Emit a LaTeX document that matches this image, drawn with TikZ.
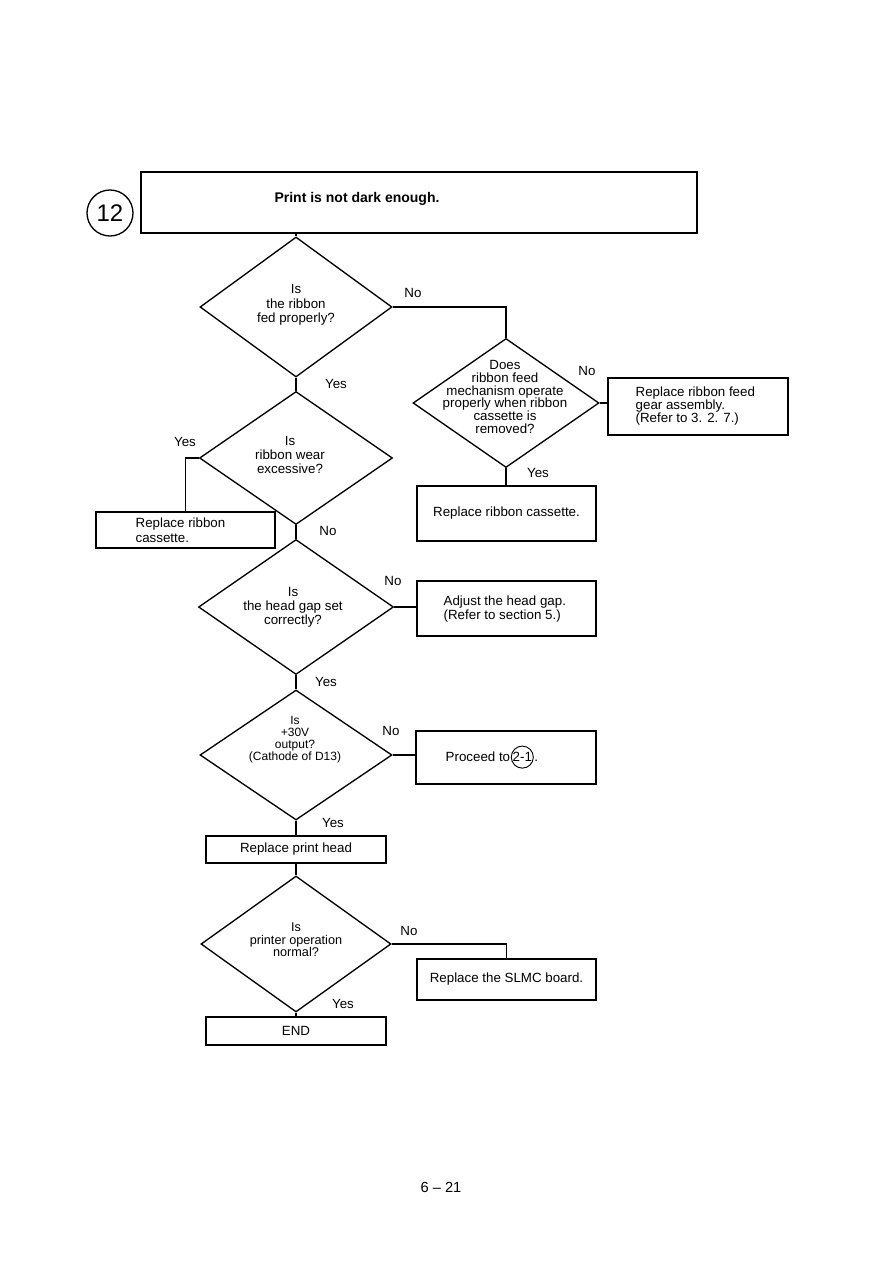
\documentclass[tikz,border=0pt]{standalone}
\usepackage{fontspec}
\setmainfont{Liberation Sans}
\usetikzlibrary{shapes.geometric}
\begin{document}
\begin{tikzpicture}[x=0.75pt,y=-0.75pt,line width=1pt,
  dia/.style={draw,diamond,inner sep=0pt},
  box/.style={draw,rectangle,inner sep=0pt,font=\fontsize{10}{11}\selectfont},
  txt/.style={align=center,inner sep=0pt,font=\fontsize{10}{10.5}\selectfont},
  ltxt/.style={align=left,inner sep=0pt,anchor=west},
  lbl/.style={inner sep=0pt,font=\fontsize{10}{12}\selectfont}]
\useasboundingbox (0,0) rectangle (891,1262);

% header
\node[draw,circle,minimum size=34.5pt,inner sep=0pt,font=\fontsize{18}{18}\selectfont] (num) at (110,213) {12};
\node[box,minimum width=417pt,minimum height=45.75pt] (title) at (419,202.5) {};
\node[inner sep=0pt,font=\bfseries\fontsize{10.5}{12}\selectfont] (titletext) at (357,199) {Print is not dark enough.};

% diamonds
\node[dia,minimum width=144pt,minimum height=105pt] (d1) at (296,307) {};
\node[dia,minimum width=139.5pt,minimum height=96.75pt] (d2) at (506,403) {};
\node[dia,minimum width=144.75pt,minimum height=99.75pt] (d3) at (296,458) {};
\node[dia,minimum width=146.25pt,minimum height=101.25pt] (d4) at (296,607) {};
\node[dia,minimum width=144pt,minimum height=97.5pt] (d5) at (296,755) {};
\node[dia,minimum width=142.5pt,minimum height=102pt] (d6) at (296,944) {};

% diamond texts
\node[txt,font=\fontsize{10}{10.8}\selectfont] (t1) at (296,305) {Is\\the ribbon\\fed properly?};
\node[txt,font=\fontsize{10}{9.7}\selectfont] (t2) at (505,397) {Does\\ribbon feed\\mechanism operate\\properly when ribbon\\cassette is\\removed?};
\node[txt] (t3) at (290,455) {Is\\ribbon wear\\excessive?};
\node[txt] (t4) at (293,607) {Is\\the head gap set\\correctly?};
\node[txt,font=\fontsize{9}{9}\selectfont] (t5) at (295,740) {Is\\+30V\\output?\\(Cathode of D13)};
\node[txt,font=\fontsize{9.5}{9.5}\selectfont] (t6) at (296,940) {Is\\printer operation\\normal?};

% boxes
\node[box,minimum width=135pt,minimum height=42.75pt] (b1) at (698,406.5) {};
\node[ltxt,font=\fontsize{10}{9.75}\selectfont] (b1t) at (635,406) {Replace ribbon feed\\gear assembly.\\(Refer to 3. 2. 7.)};
\node[box,minimum width=134.25pt,minimum height=41.25pt] (b2) at (506.5,513.5) {Replace ribbon cassette.};
\node[box,minimum width=134.25pt,minimum height=27pt] (b3) at (185.5,530) {};
\node[ltxt,font=\fontsize{10}{11}\selectfont] (b3t) at (135,530) {Replace ribbon\\cassette.};
\node[box,minimum width=134.25pt,minimum height=41.25pt] (b4) at (506.5,608.5) {};
\node[ltxt,font=\fontsize{10}{10.5}\selectfont] (b4t) at (443,609) {Adjust the head gap.\\(Refer to section 5.)};
\node[box,minimum width=135pt,minimum height=39.75pt] (b5) at (506,757.5) {};
\node[lbl,anchor=west] (b5t) at (445,757) {Proceed to};
\node[draw,circle,inner sep=0.2pt,minimum size=16pt,line width=0.7pt,font=\fontsize{10}{10}\selectfont,anchor=base west] (c21) at (b5t.base east) {2-1};
\node[lbl,anchor=base west] (b5dot) at (c21.base east) {.};
\node[box,minimum width=135pt,minimum height=20.25pt] (b6) at (296,849.5) {Replace print head};
\node[box,minimum width=134.25pt,minimum height=30.75pt] (b7) at (506.5,979.5) {Replace the SLMC board.};
\node[box,minimum width=135pt,minimum height=21pt] (fin) at (296,1031) {END};

% connectors
\draw (title.south -| d1.north) -- (d1.north);
\draw (d1.east) -- (d1.east -| d2.north) -- (d2.north);
\draw (d1.south) -- (d3.north);
\draw (d2.east) -- (d2.east -| b1.west);
\draw (d2.south) -- (d2.south |- b2.north);
\draw (d3.west) -| (b3.north);
\draw (d3.south) -- (d4.north);
\draw (d4.east) -- (d4.east -| b4.west);
\draw (d4.south) -- (d5.north);
\draw (d5.east) -- (d5.east -| b5.west);
\draw (d5.south) -- (b6.north);
\draw (b6.south) -- (d6.north);
\draw (d6.east) -| (b7.north);
\draw (d6.south) -- (fin.north);

% labels
\node[lbl] (l1) at (413,293) {No};
\node[lbl] (l2) at (336,384) {Yes};
\node[lbl] (l3) at (587,371) {No};
\node[lbl] (l4) at (538,473) {Yes};
\node[lbl] (l5) at (185,442) {Yes};
\node[lbl] (l6) at (328,531) {No};
\node[lbl] (l7) at (393,581) {No};
\node[lbl] (l8) at (326,682) {Yes};
\node[lbl] (l9) at (391,731) {No};
\node[lbl] (l10) at (333,823) {Yes};
\node[lbl] (l11) at (409,931) {No};
\node[lbl] (l12) at (343,1004) {Yes};

% page number
\node[inner sep=0pt,font=\fontsize{11}{12}\selectfont] (pg) at (441,1187) {6 – 21};
\end{tikzpicture}
\end{document}
